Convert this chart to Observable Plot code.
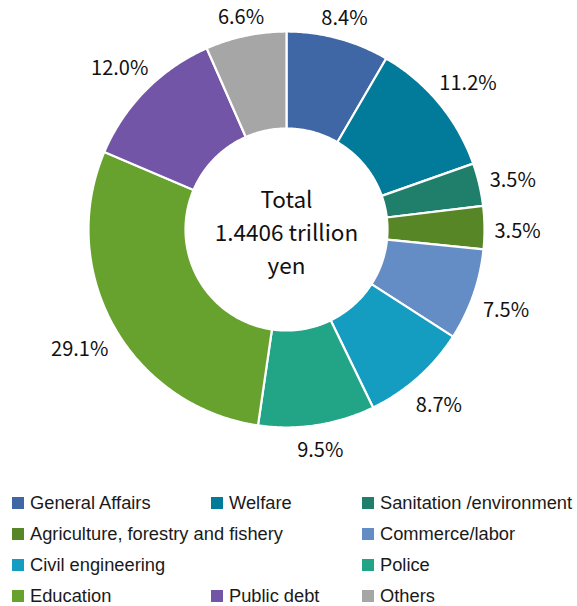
<!DOCTYPE html>
<html>
<head>
<meta charset="utf-8">
<script src="https://cdn.jsdelivr.net/npm/d3@7"></script>
<script src="https://cdn.jsdelivr.net/npm/@observablehq/plot@0.6"></script>
<style>
  body { margin: 0; background: #fff; }
  #wrap { position: relative; width: 577px; height: 606px; }
  #legend { position: absolute; left: 12px; top: 492px; display: grid;
    grid-template-columns: 199px 151px auto; row-gap: 9px;
    font-family: "Liberation Sans", Arial, sans-serif; font-size: 18.3px; color: #1a1a1a; }
  .item { display: flex; align-items: center; height: 22px; white-space: nowrap; }
  .sw { width: 12px; height: 12px; margin-right: 6px; flex: none; }
</style>
</head>
<body>
<div id="wrap"><div id="chart"></div><div id="legend"></div></div>
<script>
const categories = ["General Affairs", "Welfare", "Sanitation /environment", "Agriculture, forestry and fishery", "Commerce/labor", "Civil engineering", "Police", "Education", "Public debt", "Others"];
const shares = [8.4, 11.2, 3.5, 3.5, 7.5, 8.7, 9.5, 29.1, 12.0, 6.6];
const colors = ["#3F67A6", "#027B9A", "#1F7F6A", "#568625", "#648DC6", "#159DC1", "#22A587", "#67A22F", "#7255A6", "#A6A6A6"];
const centerLines = ["Total", "1.4406 trillion", "yen"];
// legend grid: [category index, column start, column span, row]
const legendLayout = [[0,1,1,1],[1,2,1,1],[2,3,1,1],[3,1,2,2],[4,3,1,2],[5,1,2,3],[6,3,1,3],[7,1,1,4],[8,2,1,4],[9,3,1,4]];

const W = 577, H = 480, cx = 286, cy = 229;
const R = 198, r0 = 101, gap = 10, halfH = 8.5, charW = 11.5, labelShift = 4;

const pie = d3.pie().sort(null).value(d => d)(shares);
const polys = [];
pie.forEach((p, i) => {
  const n = Math.max(4, Math.ceil((p.endAngle - p.startAngle) / 0.01));
  for (let k = 0; k <= n; k++) {
    const a = p.startAngle + (p.endAngle - p.startAngle) * k / n;
    polys.push({cat: categories[i], x: R * Math.sin(a), y: R * Math.cos(a)});
  }
  for (let k = n; k >= 0; k--) {
    const a = p.startAngle + (p.endAngle - p.startAngle) * k / n;
    polys.push({cat: categories[i], x: r0 * Math.sin(a), y: r0 * Math.cos(a)});
  }
});
const labels = pie.map((p, i) => {
  const a = (p.startAngle + p.endAngle) / 2;
  const text = shares[i].toFixed(1) + "%";
  const halfW = text.length * charW / 2;
  const rr = R + gap + halfW * Math.abs(Math.sin(a)) + halfH * Math.abs(Math.cos(a));
  return {text, x: rr * Math.sin(a), y: rr * Math.cos(a) - labelShift};
});
const center = centerLines.map((t, i) => ({t, x: 0, y: 29 - i * 33}));

const chart = Plot.plot({
  width: W, height: H, margin: 0,
  x: {domain: [-cx, W - cx], axis: null},
  y: {domain: [-(H - cy), cy], axis: null},
  color: {domain: categories, range: colors},
  marks: [
    Plot.line(polys, {x: "x", y: "y", z: "cat", fill: "cat", stroke: "white", strokeWidth: 2.2, curve: "linear-closed"}),
    Plot.text(labels, {x: "x", y: "y", text: "text", fontSize: 20, fill: "#111", fontFamily: "'Noto Sans CJK JP', sans-serif"}),
    Plot.text(center, {x: "x", y: "y", text: "t", fontSize: 22.5, fill: "#111", fontFamily: "'Noto Sans CJK JP', sans-serif"})
  ]
});
document.getElementById("chart").appendChild(chart);

const leg = document.getElementById("legend");
legendLayout.forEach(([i, col, span, row]) => {
  const d = document.createElement("div");
  d.className = "item";
  d.style.gridColumn = col + " / span " + span;
  d.style.gridRow = row;
  d.innerHTML = `<span class="sw" style="background:${colors[i]}"></span><span>${categories[i]}</span>`;
  leg.appendChild(d);
});
</script>
</body>
</html>
